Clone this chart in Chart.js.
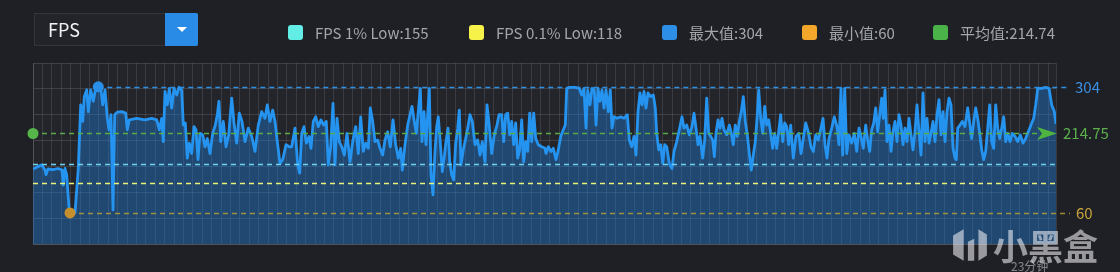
<!DOCTYPE html>
<html>
<head>
<meta charset="utf-8">
<script src="https://cdn.jsdelivr.net/npm/chart.js@4"></script>
<style>
  html, body { margin: 0; padding: 0; background: #1f2025; width: 1120px; height: 272px; overflow: hidden; font-family: "Noto Sans CJK SC", "Noto Sans", sans-serif; }
  #wrap { position: relative; width: 1120px; height: 272px; }
  #chart { position: absolute; left: 0; top: 0; }
  .dropdown { position: absolute; left: 34px; top: 13px; width: 162px; height: 31px; border: 1px solid #35363c; background: #23242a; box-sizing: content-box; }
  .dropdown .label { position: absolute; left: 13px; top: 2px; font-size: 18px; color: #f2f2f2; line-height: 26px; }
  .dropdown .btn { position: absolute; right: -1px; top: -1px; width: 33px; height: 33px; background: #2a8be6; border-radius: 0 2px 2px 0; }
  .dropdown .btn::after { content: ""; position: absolute; left: 12px; top: 14px; border-left: 5px solid transparent; border-right: 5px solid transparent; border-top: 5px solid #fff; }
  .legend { position: absolute; top: 23px; height: 20px; font-size: 15px; color: #a3a6ac; line-height: 20px; white-space: nowrap; }
  .legend .sw { position: absolute; left: 0; top: 2px; width: 15px; height: 15px; border-radius: 3px; }
  .legend .tx { position: absolute; top: 0; }
  .wm { position: absolute; color: rgba(235,235,240,0.6); white-space: nowrap; }
</style>
</head>
<body>
<div id="wrap">
  <canvas id="chart" width="1120" height="272"></canvas>
  <div class="dropdown"><div class="label">FPS</div><div class="btn"></div></div>
  <div id="legendBox"></div>
  <div class="wm" style="left:993px; top:219px; font-size:35px; font-weight:700; letter-spacing:0px;">小黑盒</div>
  <div class="wm" style="left:1011px; top:257px; font-size:12px; color:rgba(235,235,240,0.5);">23分钟</div>
  <svg class="wm" style="left:951px; top:227px;" width="38" height="36" viewBox="0 0 36 34">
    <path d="M2 8 L12 2 L12 32 L2 26 Z M16 14 L22 11 L22 32 L16 32 Z M26 2 L34 7 L34 27 L26 32 Z" fill="rgba(235,235,240,0.6)"/>
  </svg>
</div>
<script>
// ---- data ----
const sampleTime = [
  0,8.7,12,13,15,20,25,29,30.3,32,33.7,36.3,37,42,45.3,47.7,49.7,51.3,53.7,55.3,57.7,60.3,62.7,65.3,67.7,69.7,72,74.3,76,78,80,81.7,84.3,88.7,92.7,94.3,96.3,103.7,112,118.7,123.7,126.3,128.7,130.3,132,134.3,136.3,138.7,141,143.7,146,148.7,150.3,152.3,154.3,156.3,158.7,161,163,165,167,169.7,172,174.3,177,179.7,182.3,184.3,186,187.7,190.3,193,195.7,198.7,201,203.7,206.3,209,212,215.3,218.7,222,225.3,228.7,232,234.3,237,239.7,242,244.3,247,249.7,253,256.3,
  258.7,262,264.7,266.7,268.7,271,273.3,276,278,280.3,282.7,285.3,288,290.7,293.3,295.3,297.7,300,302,304,306.3,308.7,311.3,314,317,319.7,322.7,325.3,327.7,330.3,332.7,335.3,337.3,339.7,342,344.7,347,349.7,352,354.7,357.3,360,362.7,365.3,367.7,369.3,372,374.7,377,379,381.3,383.3,385.3,387.3,389,391,393,394.7,396.3,398,400,402,403.7,405.3,407.3,409.3,411.3,413,415,416.7,418.7,420.7,422.7,424.7,426.3,428,430.3,432.7,434.7,437,439.3,442,444.7,447,449.3,452,454,456,458.7,461.3,464,466,468.7,470.7,472.7,474.7,476.7,478.7,480.7,482.7,484.7,486.7,488.7,490.7,492.7,494.7,496.7,498.7,500.7,502.7,505.3,508.7,512,
  513,515.3,518,520.3,523,525.3,527.7,530.3,532.3,533.7,537,542,546.3,548.7,551,553,554.7,557,559,561.3,563,565,567,569,571,573,575.3,577.3,579,581,584.3,587.7,591,594.3,596.3,598.7,601,603,605,607,609,611,613,615,617.7,620.3,622.3,623.7,625.7,627.7,629.7,631.7,633.7,636.3,639,641,643.7,646.3,649,651,653.7,656.3,659,661,663,665,667,669.7,671.7,673.7,675.7,677.7,679.7,681.3,683,685,687,689,691,693.7,696.3,698.3,700.3,702.3,704.3,706.3,708.3,710.3,712.3,714.3,716.3,718.3,720.3,722.3,724.3,725.7,727.7,729.7,731.7,733.7,735.7,737.7,739.7,741.7,743.7,745.7,747.7,749.7,751.7,753.7,755.7,757.7,760.3,763,765.7,
  768,770.3,772.7,775.3,778,780.3,782.7,785.3,788,790,792,794,796,798.7,801.3,804,806,808,809.7,811.7,813.7,816,818.7,821.3,823.7,826,828,830.3,832.7,834.7,836.7,838.7,840.7,842.7,844.7,846.7,848.7,850.3,852,854,856,858,860,862,864,866,868,870,872,874,876,878,880,882,884,886,888,890,892,894,896,898,900,902,904,906,908,910,912,914,916,918,920,922,923.3,924.7,927,929.3,932,934.7,936.7,938.7,940.7,942.7,944.7,946.7,948.7,950.7,952.7,954.7,956.7,958.7,960.7,962.7,964.7,966.7,968.7,970.7,972.7,974.7,977,979.3,982,984.7,987.3,990,992.7,995.3,998,1000.7,1002.7,1004.7,1008.7,1012.7,1016,1018.7,1021.3,1023
];
const fpsValues = [
  145,153,143,134,145,144,146,143,114,146,134,62,60,60,146,269,237,285,298,256,298,276,301,304,302,269,298,243,221,250,66,250,255,256,253,221,240,243,240,243,240,221,243,198,295,269,301,263,301,288,303,298,230,234,166,195,175,227,221,163,214,211,188,204,175,214,230,250,276,198,237,188,211,282,234,195,253,237,198,224,208,179,230,256,243,269,237,259,237,198,156,163,192,188,
  188,224,153,137,214,227,195,208,185,237,246,227,240,230,237,153,188,272,153,243,198,188,172,214,159,198,227,175,246,179,195,185,263,237,198,201,185,172,201,217,188,240,192,166,185,143,192,230,250,266,237,214,256,301,198,256,192,250,301,134,95,179,227,246,195,140,169,198,224,159,134,124,195,224,259,153,182,204,224,250,237,192,201,172,198,159,269,234,175,211,230,250,250,198,250,253,211,237,192,234,166,182,240,159,198,179,253,198,253,204,192,188,185,
  175,188,179,185,163,182,208,221,230,301,303,303,301,288,301,224,298,269,301,298,230,301,276,298,263,298,256,298,224,246,243,246,243,250,201,188,208,172,256,292,269,295,263,292,285,288,263,214,182,192,156,192,188,156,146,179,198,221,246,224,230,211,227,253,224,192,208,166,201,282,214,208,201,169,214,240,224,243,221,211,230,214,192,230,208,237,256,285,237,211,175,143,172,198,250,298,243,214,266,230,240,214,185,214,185,217,250,198,234,227,192,230,166,208,214,
  175,204,234,217,188,179,211,201,224,243,192,166,204,224,246,227,192,301,172,301,175,211,195,214,179,224,208,185,230,201,179,221,234,263,217,250,282,243,298,198,230,179,217,237,198,250,230,192,224,198,243,211,182,217,269,217,172,292,198,243,195,214,237,198,250,279,211,256,198,256,282,269,185,166,163,224,230,237,227,263,234,204,237,263,243,214,182,163,179,224,269,198,185,269,224,204,224,246,198,214,198,214,208,198,211,195,204,217,230,243,269,301,301,303,301,269,256,232
];
const legendLabels = ["FPS 1% Low:155", "FPS 0.1% Low:118", "最大值:304", "最小值:60", "平均值:214.74"];
const legendColors = ["#62eee6", "#f7f24a", "#2d8fe6", "#f2a72b", "#4bb24a"];
const statLines = { low1: 155, low01: 118, max: 304, min: 60, avg: 214.75 };
const yTicks = [0, 50, 100, 150, 200, 250, 300, 350];
const timeMax = 1023;
const timeGridStep = 9.4;

// ---- legend (HTML) ----
const legendX = [288, 469, 662, 802, 933];
const lb = document.getElementById('legendBox');
legendLabels.forEach((t, i) => {
  const d = document.createElement('div');
  d.className = 'legend';
  d.style.left = legendX[i] + 'px';
  d.innerHTML = '<span class="sw" style="background:' + legendColors[i] + '"></span><span class="tx" style="left:27px">' + t + '</span>';
  lb.appendChild(d);
});

const points = sampleTime.map((t, i) => ({ x: t, y: fpsValues[i] }));
let maxIdx = 0, minIdx = 0;
fpsValues.forEach((v, i) => { if (v > fpsValues[maxIdx]) maxIdx = i; if (v < fpsValues[minIdx]) minIdx = i; });

const plotBg = {
  id: 'plotBg',
  beforeDraw(chart) {
    const { ctx, chartArea: a } = chart;
    ctx.save();
    ctx.fillStyle = '#24252b';
    ctx.fillRect(a.left, a.top, a.right - a.left, a.bottom - a.top);
    ctx.restore();
  }
};

const markLines = {
  id: 'markLines',
  afterDatasetsDraw(chart) {
    const { ctx, chartArea: a, scales: { x, y } } = chart;
    ctx.save();
    function dashed(v, x0, x1, color, width) {
      const py = Math.round(y.getPixelForValue(v)) + 0.5;
      ctx.strokeStyle = color; ctx.lineWidth = width || 1.2;
      ctx.setLineDash([5, 4]);
      ctx.beginPath(); ctx.moveTo(x0, py); ctx.lineTo(x1, py); ctx.stroke();
      ctx.setLineDash([]);
      return py;
    }
    function dot(px, py, color) {
      ctx.fillStyle = color; ctx.beginPath(); ctx.arc(px, py, 5.5, 0, Math.PI * 2); ctx.fill();
    }
    function label(text, px, py, color) {
      ctx.fillStyle = color; ctx.font = '15px "Noto Sans CJK SC", "Noto Sans", sans-serif';
      ctx.textBaseline = 'middle'; ctx.textAlign = 'left';
      ctx.fillText(text, px, py);
    }
    dashed(statLines.low1, a.left, a.right, '#6fd3ef', 1.5);
    dashed(statLines.low01, a.left, a.right, '#e9f47a', 1.5);
    const minX = x.getPixelForValue(sampleTime[minIdx]);
    const pyMin = dashed(statLines.min, minX, a.right + 14, 'rgba(200,170,50,0.75)', 1.5);
    dot(minX, y.getPixelForValue(fpsValues[minIdx]), '#c48f2c');
    label(String(statLines.min), a.right + 20, pyMin, '#c9a43a');
    const maxX = x.getPixelForValue(sampleTime[maxIdx]);
    const pyMax = dashed(statLines.max, maxX, a.right + 14, '#2f8fe0', 1.3);
    dot(maxX, y.getPixelForValue(fpsValues[maxIdx]), '#2a8fe8');
    label(String(statLines.max), a.right + 19, pyMax, '#3b8fe2');
    const pyAvg = dashed(statLines.avg, a.left, a.right - 16, '#5aaa47', 1.3);
    dot(a.left, pyAvg, '#55b548');
    ctx.fillStyle = '#4fb43f';
    ctx.beginPath();
    ctx.moveTo(a.right + 1, pyAvg);
    ctx.lineTo(a.right - 19, pyAvg - 6.5);
    ctx.lineTo(a.right - 14, pyAvg);
    ctx.lineTo(a.right - 19, pyAvg + 6.5);
    ctx.closePath(); ctx.fill();
    label(String(statLines.avg), a.right + 7, pyAvg, '#5cb04c');
    ctx.restore();
  }
};

new Chart(document.getElementById('chart'), {
  type: 'line',
  data: {
    datasets: [{
      data: points,
      borderColor: '#2594f0',
      borderWidth: 2.8,
      backgroundColor: 'rgba(28,125,220,0.40)',
      fill: 'origin',
      pointRadius: 0,
      tension: 0,
      borderJoinStyle: 'round'
    }]
  },
  options: {
    responsive: false,
    animation: false,
    events: [],
    layout: { padding: { left: 33, right: 64, top: 63, bottom: 28 } },
    plugins: { legend: { display: false }, tooltip: { enabled: false } },
    scales: {
      x: {
        type: 'linear', min: 0, max: timeMax,
        afterBuildTicks(scale) {
          const t = [];
          for (let v = 0; v < timeMax - 1; v += timeGridStep) t.push({ value: v });
          t.push({ value: timeMax });
          scale.ticks = t;
        },
        ticks: { display: false },
        grid: { color: 'rgba(120,122,130,0.28)', lineWidth: 1, drawTicks: false },
        border: { display: true, color: 'rgba(120,122,130,0.35)' }
      },
      y: {
        min: 0, max: 350,
        afterBuildTicks(scale) { scale.ticks = yTicks.map(v => ({ value: v })); },
        ticks: { display: false },
        grid: { color: 'rgba(120,122,130,0.32)', lineWidth: 1, drawTicks: false },
        border: { display: true, color: 'rgba(120,122,130,0.35)' }
      }
    }
  },
  plugins: [plotBg, markLines]
});
</script>
</body>
</html>
